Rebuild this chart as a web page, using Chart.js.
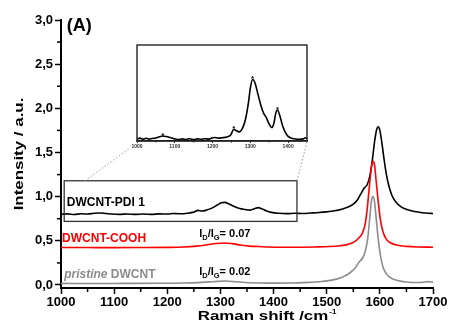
<!DOCTYPE html>
<html>
<head>
<meta charset="utf-8">
<script src="https://cdn.jsdelivr.net/npm/chart.js@4.4.1/dist/chart.umd.min.js"></script>
<style>
  body { margin: 0; background: #fff; }
  #wrap { position: relative; width: 450px; height: 332px; }
  #main { position: absolute; left: 0; top: 0; }
  #inset { position: absolute; left: 125px; top: 38px; }
</style>
</head>
<body>
<div id="wrap">
  <canvas id="main" width="450" height="332"></canvas>
  <canvas id="inset" width="190" height="115"></canvas>
</div>
<script>
const FONT = '"Liberation Sans", Arial, Helvetica, sans-serif';

// tick labels
const xTicks = [1000, 1100, 1200, 1300, 1400, 1500, 1600, 1700];
const yTicks = [0, 0.5, 1, 1.5, 2, 2.5, 3];
const insetTicks = [1000, 1100, 1200, 1300, 1400];

// DWCNT-PDI 1 (black)
const pdiShift = [1000, 1012, 1025, 1038, 1050, 1062, 1072, 1084, 1096, 1110, 1125, 1140, 1155, 1170, 1185, 1200, 1212, 1224, 1238, 1250, 1258, 1265, 1274, 1284, 1294, 1302, 1308, 1316, 1326, 1336, 1346, 1356, 1364, 1371, 1378, 1386, 1396, 1410, 1425, 1440, 1455, 1470, 1485, 1500, 1515, 1528, 1540, 1550, 1558, 1565, 1571, 1576, 1581, 1586, 1590, 1594, 1597, 1600, 1604, 1608, 1612, 1617, 1623, 1630, 1640, 1652, 1665, 1680, 1690, 1700];
const pdiIntensity = [0.800, 0.805, 0.798, 0.806, 0.803, 0.812, 0.815, 0.810, 0.803, 0.800, 0.804, 0.799, 0.803, 0.800, 0.805, 0.803, 0.810, 0.806, 0.812, 0.825, 0.845, 0.838, 0.848, 0.870, 0.905, 0.930, 0.935, 0.918, 0.888, 0.865, 0.855, 0.848, 0.862, 0.876, 0.862, 0.840, 0.822, 0.812, 0.808, 0.812, 0.810, 0.815, 0.820, 0.828, 0.840, 0.858, 0.882, 0.915, 0.965, 1.040, 1.100, 1.135, 1.230, 1.420, 1.620, 1.760, 1.790, 1.750, 1.600, 1.420, 1.260, 1.120, 1.010, 0.940, 0.885, 0.852, 0.832, 0.818, 0.812, 0.810];

// DWCNT-COOH (red)
const coohShift = [1000, 1050, 1100, 1150, 1200, 1230, 1255, 1275, 1292, 1308, 1322, 1338, 1355, 1372, 1390, 1420, 1450, 1480, 1505, 1525, 1540, 1551, 1560, 1567, 1572, 1576, 1580, 1584, 1587, 1590, 1593, 1597, 1601, 1606, 1612, 1620, 1632, 1650, 1670, 1700];
const coohIntensity = [0.425, 0.424, 0.423, 0.424, 0.426, 0.430, 0.440, 0.455, 0.470, 0.476, 0.468, 0.452, 0.440, 0.436, 0.430, 0.427, 0.428, 0.431, 0.436, 0.445, 0.460, 0.485, 0.530, 0.585, 0.680, 0.850, 1.100, 1.330, 1.400, 1.360, 1.180, 0.940, 0.740, 0.600, 0.520, 0.478, 0.452, 0.437, 0.430, 0.428];

// pristine DWCNT (grey)
const pristineShift = [1000, 1060, 1120, 1180, 1230, 1265, 1290, 1310, 1330, 1355, 1390, 1430, 1465, 1490, 1510, 1528, 1542, 1553, 1561, 1567, 1572, 1577, 1581, 1584, 1587, 1590, 1593, 1597, 1601, 1606, 1613, 1622, 1635, 1650, 1665, 1680, 1690, 1700];
const pristineIntensity = [0.018, 0.017, 0.018, 0.019, 0.022, 0.030, 0.040, 0.045, 0.036, 0.026, 0.021, 0.022, 0.030, 0.040, 0.055, 0.085, 0.130, 0.190, 0.260, 0.300, 0.370, 0.520, 0.760, 0.950, 1.000, 0.940, 0.760, 0.520, 0.340, 0.200, 0.120, 0.075, 0.048, 0.034, 0.028, 0.030, 0.038, 0.032];

// inset: DWCNT-PDI 1, 1000-1450 cm-1 (relative units)
const insetShift = [1000, 1008, 1016, 1024, 1032, 1040, 1050, 1060, 1068, 1078, 1090, 1100, 1110, 1120, 1130, 1140, 1150, 1160, 1170, 1180, 1190, 1198, 1205, 1215, 1225, 1238, 1248, 1256, 1262, 1270, 1280, 1288, 1295, 1300, 1306, 1312, 1320, 1328, 1335, 1342, 1350, 1357, 1362, 1368, 1372, 1378, 1385, 1392, 1400, 1410, 1420, 1430, 1440, 1446, 1450];
const insetIntensity = [0.020, 0.030, 0.018, 0.028, 0.020, 0.026, 0.032, 0.045, 0.052, 0.046, 0.034, 0.022, 0.015, 0.022, 0.016, 0.024, 0.014, 0.022, 0.018, 0.024, 0.020, 0.030, 0.036, 0.030, 0.034, 0.042, 0.062, 0.120, 0.110, 0.095, 0.140, 0.240, 0.400, 0.550, 0.640, 0.610, 0.490, 0.370, 0.290, 0.245, 0.175, 0.140, 0.180, 0.300, 0.320, 0.265, 0.165, 0.095, 0.048, 0.028, 0.020, 0.018, 0.022, 0.034, 0.024];
const starShift = [1068, 1256, 1306, 1372];

const ratioValues = ['0.07', '0.02'];

function points(xs, ys) {
    return xs.map((x, i) => ({ x: x, y: ys[i] }));
}

function line(ctx, x1, y1, x2, y2) {
    ctx.beginPath();
    ctx.moveTo(x1, y1);
    ctx.lineTo(x2, y2);
    ctx.stroke();
}

// ---------- inset ----------
const insetDecor = {
    id: 'insetDecor',
    afterDraw(chart) {
        const ctx = chart.ctx, a = chart.chartArea, xs = chart.scales.x, ys = chart.scales.y;
        ctx.save();
        ctx.strokeStyle = '#222';
        ctx.lineWidth = 1.4;
        ctx.strokeRect(a.left, a.top, a.right - a.left, a.bottom - a.top);
        // minor ticks
        ctx.lineWidth = 1;
        for (let i = 0; i < insetTicks.length; i++) {
            const p = xs.getPixelForValue(insetTicks[i] + 50);
            if (p < a.right) line(ctx, p, a.bottom, p, a.bottom + 1.5);
        }
        // stars over the peaks
        ctx.fillStyle = '#000';
        ctx.font = 'bold 8px ' + FONT;
        ctx.textAlign = 'center';
        ctx.textBaseline = 'alphabetic';
        starShift.forEach(s => {
            let k = 0;
            insetShift.forEach((v, i) => { if (Math.abs(v - s) < Math.abs(insetShift[k] - s)) k = i; });
            ctx.fillText('*', xs.getPixelForValue(s), ys.getPixelForValue(insetIntensity[k]) + 1.5);
        });
        ctx.restore();
    }
};

var insetChart = new Chart(document.getElementById('inset'), {
    type: 'line',
    data: {
        datasets: [{
            data: points(insetShift, insetIntensity),
            borderColor: '#000',
            borderWidth: 1.6
        }]
    },
    options: {
        responsive: false,
        animation: false,
        layout: { padding: { left: 12, right: 8, top: 7, bottom: 0 } },
        elements: { point: { radius: 0 }, line: { cubicInterpolationMode: 'monotone' } },
        plugins: { legend: { display: false }, tooltip: { enabled: false } },
        scales: {
            x: {
                type: 'linear', min: 1000, max: 1450,
                afterBuildTicks: s => { s.ticks = insetTicks.map(v => ({ value: v })); },
                afterFit: s => { s.height = 12; },
                ticks: { font: { family: FONT, size: 5, weight: 'bold' }, color: '#333', padding: 1, maxRotation: 0, callback: v => String(v) },
                grid: { drawOnChartArea: false, tickLength: 2, tickWidth: 1, tickColor: '#222' },
                border: { color: '#222', width: 1.4 }
            },
            y: { display: false, min: 0, max: 1 }
        }
    },
    plugins: [insetDecor]
});

// ---------- main ----------
const zoomBox = { from: 1006, to: 1444, low: 0.72, high: 1.18 };

function drawRatio(ctx, x, y, value) {
    ctx.textAlign = 'left';
    ctx.textBaseline = 'middle';
    ctx.font = 'bold 11px ' + FONT;
    ctx.fillText('I', x, y);
    x += ctx.measureText('I').width;
    ctx.font = 'bold 7.5px ' + FONT;
    ctx.fillText('D', x, y + 3.5);
    x += ctx.measureText('D').width;
    ctx.font = 'bold 11px ' + FONT;
    ctx.fillText('/I', x, y);
    x += ctx.measureText('/I').width;
    ctx.font = 'bold 7.5px ' + FONT;
    ctx.fillText('G', x, y + 3.5);
    x += ctx.measureText('G').width;
    ctx.font = 'bold 11px ' + FONT;
    ctx.fillText('= ' + value, x, y);
}

const mainDecor = {
    id: 'mainDecor',
    afterDraw(chart) {
        const ctx = chart.ctx, a = chart.chartArea, xs = chart.scales.x, ys = chart.scales.y;
        ctx.save();

        // minor ticks
        ctx.strokeStyle = '#000';
        ctx.lineWidth = 1.5;
        for (let i = 0; i < xTicks.length - 1; i++) {
            const p = xs.getPixelForValue((xTicks[i] + xTicks[i + 1]) / 2);
            line(ctx, p, a.bottom, p, a.bottom + 4);
        }
        for (let i = 0; i < yTicks.length - 1; i++) {
            const p = ys.getPixelForValue((yTicks[i] + yTicks[i + 1]) / 2);
            line(ctx, a.left - 4, p, a.left, p);
        }

        // zoom rectangle
        const bx1 = xs.getPixelForValue(zoomBox.from), bx2 = xs.getPixelForValue(zoomBox.to);
        const by1 = ys.getPixelForValue(zoomBox.high), by2 = ys.getPixelForValue(zoomBox.low);
        ctx.strokeStyle = '#333';
        ctx.lineWidth = 1.3;
        ctx.strokeRect(bx1, by1, bx2 - bx1, by2 - by1);

        // dotted connectors to the inset
        const ia = insetChart.chartArea;
        const ox = 125, oy = 38;
        ctx.strokeStyle = '#9a9a9a';
        ctx.lineWidth = 1;
        ctx.setLineDash([1.5, 2]);
        line(ctx, xs.getPixelForValue(1045), by1, ox + ia.left - 7, oy + ia.bottom + 7);
        line(ctx, bx2, by1, ox + ia.right, oy + ia.bottom + 1);
        ctx.setLineDash([]);

        // panel letter
        ctx.fillStyle = '#000';
        ctx.textAlign = 'left';
        ctx.textBaseline = 'middle';
        ctx.font = 'bold 18px ' + FONT;
        ctx.fillText('(A)', xs.getPixelForValue(1011), ys.getPixelForValue(2.93));

        // series names
        ctx.font = 'bold 12px ' + FONT;
        ctx.fillText('DWCNT-PDI 1', xs.getPixelForValue(1011), ys.getPixelForValue(0.928));
        ctx.fillStyle = '#ff0000';
        ctx.fillText('DWCNT-COOH', xs.getPixelForValue(1002), ys.getPixelForValue(0.52));
        ctx.fillStyle = '#8c8c8c';
        let px = xs.getPixelForValue(1006);
        const py = ys.getPixelForValue(0.113);
        ctx.font = 'italic bold 12px ' + FONT;
        ctx.fillText('pristine', px, py);
        px += ctx.measureText('pristine ').width;
        ctx.font = 'bold 12px ' + FONT;
        ctx.fillText('DWCNT', px, py);

        // intensity ratios
        ctx.fillStyle = '#000';
        drawRatio(ctx, xs.getPixelForValue(1260), ys.getPixelForValue(0.577), ratioValues[0]);
        drawRatio(ctx, xs.getPixelForValue(1260), ys.getPixelForValue(0.147), ratioValues[1]);

        // axis titles
        ctx.font = 'bold 13px ' + FONT;
        ctx.textAlign = 'left';
        ctx.textBaseline = 'alphabetic';
        const title = 'Raman shift /cm';
        const tw = ctx.measureText(title).width * 1.3;
        const tx = (a.left + a.right) / 2 + 16 - tw / 2;
        ctx.save();
        ctx.translate(tx, a.bottom + 32);
        ctx.scale(1.3, 1);
        ctx.fillText(title, 0, 0);
        ctx.restore();
        ctx.font = 'bold 8px ' + FONT;
        ctx.fillText('-1', tx + tw + 1, a.bottom + 26);

        ctx.font = 'bold 13px ' + FONT;
        ctx.textAlign = 'center';
        ctx.save();
        ctx.translate(23, (a.top + a.bottom) / 2);
        ctx.rotate(-Math.PI / 2);
        ctx.scale(1.3, 1);
        ctx.fillText('Intensity / a.u.', 0, 0);
        ctx.restore();

        ctx.restore();
    }
};

var mainChart = new Chart(document.getElementById('main'), {
    type: 'line',
    data: {
        datasets: [
            { label: 'pristine DWCNT', data: points(pristineShift, pristineIntensity), borderColor: '#8c8c8c', borderWidth: 1.6 },
            { label: 'DWCNT-COOH', data: points(coohShift, coohIntensity), borderColor: '#ff0000', borderWidth: 1.6 },
            { label: 'DWCNT-PDI 1', data: points(pdiShift, pdiIntensity), borderColor: '#000', borderWidth: 1.6 }
        ]
    },
    options: {
        responsive: false,
        animation: false,
        layout: { padding: { top: 20, right: 17, left: 0, bottom: 0 } },
        elements: { point: { radius: 0 }, line: { cubicInterpolationMode: 'monotone' } },
        plugins: { legend: { display: false }, tooltip: { enabled: false } },
        scales: {
            x: {
                type: 'linear', min: 1000, max: 1700,
                afterBuildTicks: s => { s.ticks = xTicks.map(v => ({ value: v })); },
                afterFit: s => { s.height = 44; },
                ticks: { font: { family: FONT, size: 13, weight: 'bold' }, color: '#000', padding: 1, maxRotation: 0, callback: v => String(v) },
                grid: { drawOnChartArea: false, tickLength: 6, tickWidth: 1.5, tickColor: '#000' },
                border: { color: '#000', width: 2 }
            },
            y: {
                min: -0.034, max: 3,
                afterBuildTicks: s => { s.ticks = yTicks.map(v => ({ value: v })); },
                afterFit: s => { s.width = 61; },
                ticks: { font: { family: FONT, size: 13, weight: 'bold' }, color: '#000', padding: 2, callback: v => v.toFixed(1).replace('.', ',') },
                grid: { drawOnChartArea: false, tickLength: 6, tickWidth: 1.5, tickColor: '#000' },
                border: { color: '#000', width: 2 }
            }
        }
    },
    plugins: [mainDecor]
});
</script>
</body>
</html>
